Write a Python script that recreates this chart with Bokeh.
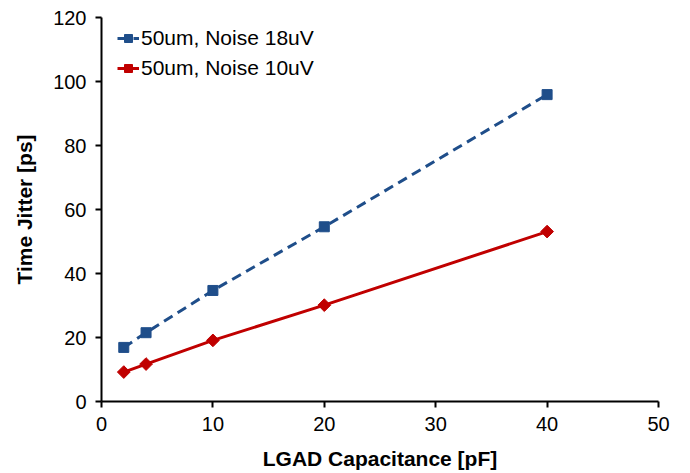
import math
from bokeh.plotting import figure
from bokeh.models import Range1d, FixedTicker, Legend, LegendItem
from bokeh.embed import file_html
from bokeh.resources import INLINE

capacitance = [2, 4, 10, 20, 40]
jitter_18uV = [16.9, 21.5, 34.7, 54.6, 95.9]
jitter_10uV = [9.2, 11.7, 19.1, 30.1, 53.1]
label_18 = "50um, Noise 18uV"
label_10 = "50um, Noise 10uV"
x_ticks = [0, 10, 20, 30, 40, 50]
y_ticks = [0, 20, 40, 60, 80, 100, 120]

FONT = "Liberation Sans"
BLUE = "#1F4E8A"
RED = "#C00000"

p = figure(width=690, height=473, output_backend="svg", toolbar_location=None,
           x_range=Range1d(0, 50), y_range=Range1d(0, 120),
           min_border_left=101, min_border_right=32, min_border_top=17, min_border_bottom=72)
p.outline_line_color = None
p.xgrid.visible = False
p.ygrid.visible = False

l1 = p.line(capacitance, jitter_18uV, line_color=BLUE, line_width=3, line_dash="10 6")
s1 = p.scatter(capacitance, jitter_18uV, marker="square", size=10, fill_color=BLUE, line_color=BLUE)
l2 = p.line(capacitance, jitter_10uV, line_color=RED, line_width=3)
s2 = p.scatter(capacitance, jitter_10uV, marker="square", size=9, angle=math.pi / 4,
               fill_color=RED, line_color=RED)

for ax in (p.xaxis[0], p.yaxis[0]):
    ax.axis_line_width = 2
    ax.axis_line_color = "black"
    ax.major_tick_line_width = 2
    ax.major_tick_line_color = "black"
    ax.major_tick_in = 0
    ax.major_tick_out = 6
    ax.minor_tick_line_color = None
    ax.major_label_text_font = FONT
    ax.major_label_text_font_size = "20px"
    ax.major_label_text_color = "black"
    ax.axis_label_text_font = FONT
    ax.axis_label_text_font_size = "21px"
    ax.axis_label_text_font_style = "bold"
    ax.axis_label_text_color = "black"

p.xaxis.ticker = FixedTicker(ticks=x_ticks)
p.yaxis.ticker = FixedTicker(ticks=y_ticks)
p.xaxis.axis_label = "LGAD Capacitance [pF]"
p.yaxis.axis_label = "Time Jitter [ps]"
p.xaxis.major_label_standoff = 9
p.yaxis.major_label_standoff = 9
p.xaxis.axis_label_standoff = 13
p.yaxis.axis_label_standoff = 14

legend = Legend(items=[LegendItem(label=label_18, renderers=[l1, s1]),
                       LegendItem(label=label_10, renderers=[l2, s2])],
                location=(16, 321))
legend.background_fill_alpha = 0
legend.border_line_color = None
legend.label_text_font = FONT
legend.label_text_font_size = "21px"
legend.label_text_color = "black"
legend.glyph_width = 22
legend.label_standoff = 2
legend.spacing = 6
legend.padding = 0
legend.margin = 0
p.add_layout(legend, "center")

open("out.html", "w").write(file_html(p, INLINE))
